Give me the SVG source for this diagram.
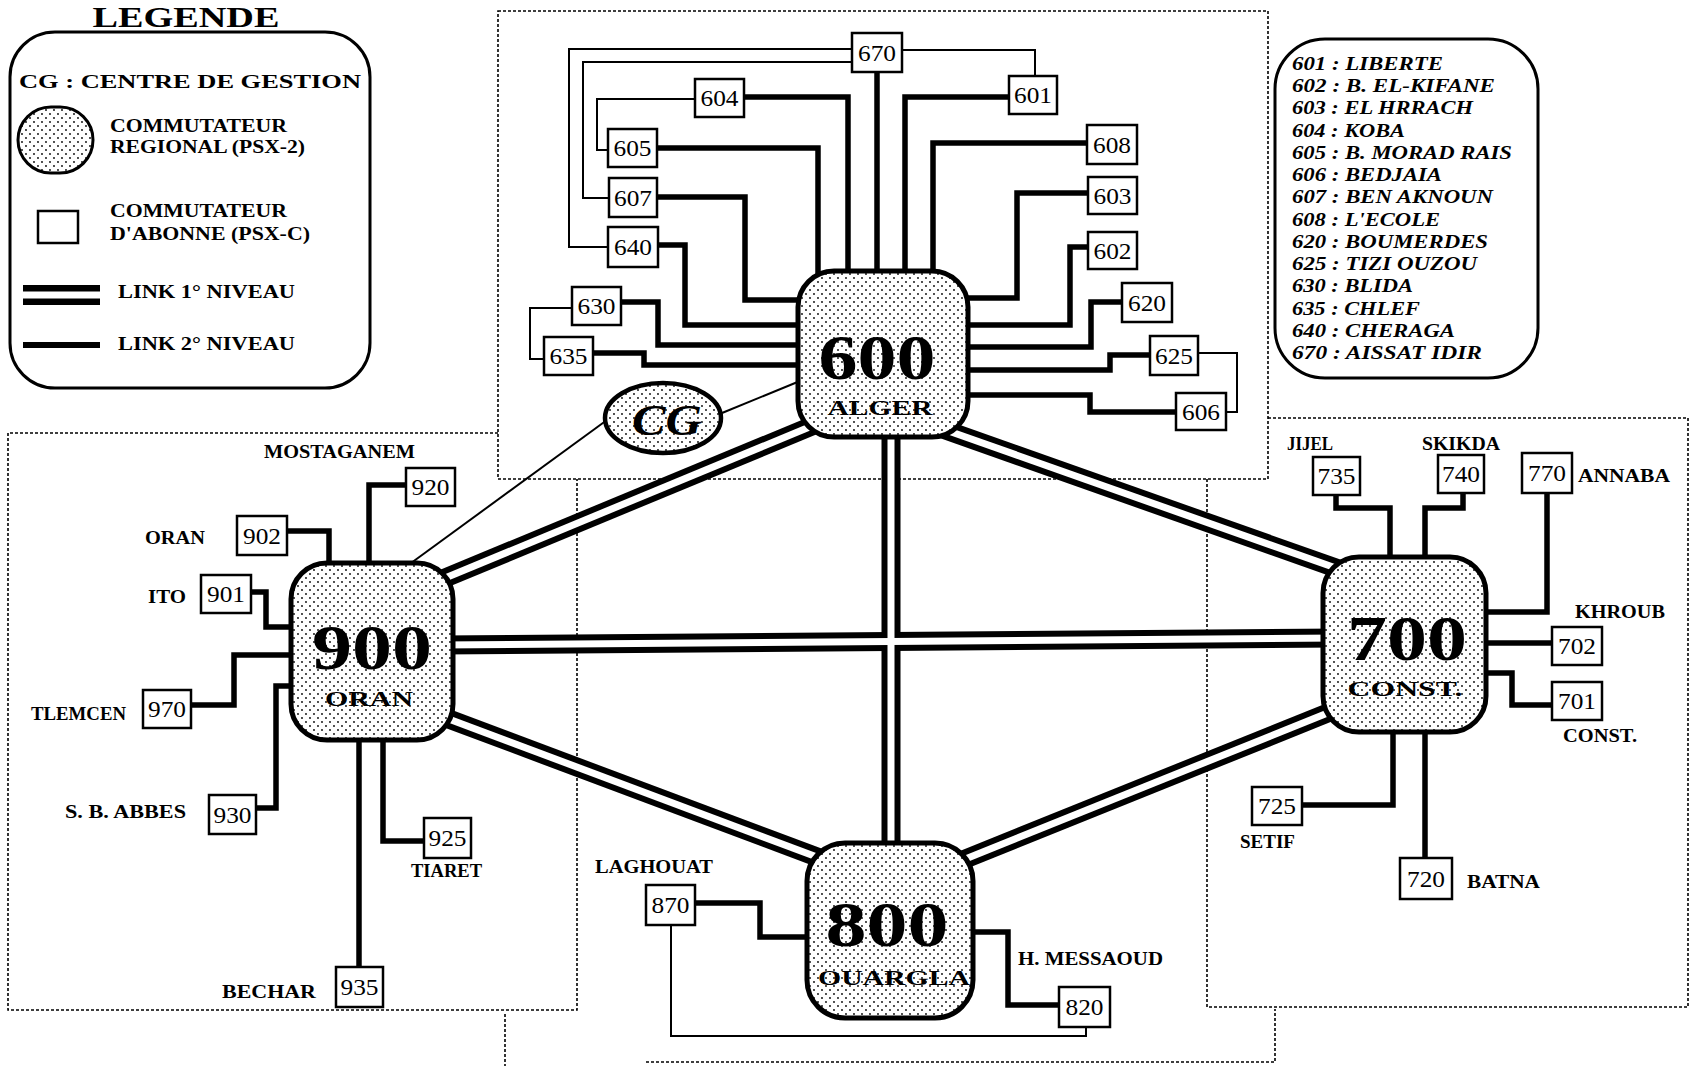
<svg xmlns="http://www.w3.org/2000/svg" width="1689" height="1066" viewBox="0 0 1689 1066">
<defs>
<pattern id="dots" width="8" height="8" patternUnits="userSpaceOnUse">
<rect width="8" height="8" fill="#fff"/>
<circle cx="2" cy="2" r="0.9" fill="#000"/>
<circle cx="6" cy="6" r="0.9" fill="#000"/>
</pattern>
</defs>
<style>
.reg{fill:none;stroke:#000;stroke-width:1.6;stroke-dasharray:3 2}
.l2{fill:none;stroke:#000;stroke-width:5.5;stroke-linejoin:miter;stroke-linecap:square}
.thin{fill:none;stroke:#000;stroke-width:2}
.l1o{fill:none;stroke:#000;stroke-width:19}
.l1i{fill:none;stroke:#fff;stroke-width:7}
.box{fill:#fff;stroke:#000;stroke-width:2.5}
.bt{font-family:"Liberation Serif",serif;font-size:24px;text-anchor:middle}
.lbl{font-family:"Liberation Serif",serif;font-weight:bold;font-size:19px}
.hub{fill:url(#dots);stroke:#000;stroke-width:5}
.hubn{font-family:"Liberation Serif",serif;font-weight:bold;font-size:64px;text-anchor:middle}
.hubl{font-family:"Liberation Serif",serif;font-weight:bold;font-size:22px;text-anchor:middle}
.leg{font-family:"Liberation Serif",serif;font-weight:bold;font-size:18px}
.code{font-family:"Liberation Serif",serif;font-weight:bold;font-style:italic;font-size:19px}
</style>
<rect width="1689" height="1066" fill="#fff"/>

<g id="regions">
<rect class="reg" x="498" y="11" width="770" height="468"/>
<path class="reg" d="M498,433 H8 V1010 H577 V479"/>
<path class="reg" d="M1268,418 H1688 V1007 H1207 V479"/>
<path class="reg" d="M505,1014 V1066 M646,1062 H1275 V1009"/>
</g>

<g id="legend">
<text x="186" y="27" font-family="Liberation Serif,serif" font-weight="bold" font-size="30" text-anchor="middle" textLength="187" lengthAdjust="spacingAndGlyphs">LEGENDE</text>
<rect x="10" y="32" width="360" height="356" rx="45" fill="none" stroke="#000" stroke-width="3"/>
<text class="leg" x="19" y="88" font-size="21" textLength="342" lengthAdjust="spacingAndGlyphs">CG : CENTRE DE GESTION</text>
<rect x="18" y="107" width="75" height="66" rx="33" fill="url(#dots)" stroke="#000" stroke-width="3"/>
<text class="leg" x="110" y="132" textLength="177" lengthAdjust="spacingAndGlyphs">COMMUTATEUR</text>
<text class="leg" x="110" y="153" textLength="195" lengthAdjust="spacingAndGlyphs">REGIONAL (PSX-2)</text>
<rect x="38" y="211" width="40" height="32" fill="#fff" stroke="#000" stroke-width="2.5"/>
<text class="leg" x="110" y="217" textLength="177" lengthAdjust="spacingAndGlyphs">COMMUTATEUR</text>
<text class="leg" x="110" y="240" textLength="200" lengthAdjust="spacingAndGlyphs">D'ABONNE (PSX-C)</text>
<path d="M23,295 H100" stroke="#000" stroke-width="20"/>
<path d="M23,295 H100" stroke="#fff" stroke-width="7"/>
<text class="leg" x="118" y="298" textLength="177" lengthAdjust="spacingAndGlyphs">LINK 1° NIVEAU</text>
<path d="M23,345 H100" stroke="#000" stroke-width="6"/>
<text class="leg" x="118" y="350" textLength="177" lengthAdjust="spacingAndGlyphs">LINK 2° NIVEAU</text>
</g>

<g id="legend-codes">
<rect x="1275" y="39" width="263" height="339" rx="50" fill="none" stroke="#000" stroke-width="3"/>
<text class="code" x="1292" y="70" textLength="151" lengthAdjust="spacingAndGlyphs">601 : LIBERTE</text>
<text class="code" x="1292" y="92" textLength="203" lengthAdjust="spacingAndGlyphs">602 : B. EL-KIFANE</text>
<text class="code" x="1292" y="114" textLength="181" lengthAdjust="spacingAndGlyphs">603 : EL HRRACH</text>
<text class="code" x="1292" y="137" textLength="113" lengthAdjust="spacingAndGlyphs">604 : KOBA</text>
<text class="code" x="1292" y="159" textLength="220" lengthAdjust="spacingAndGlyphs">605 : B. MORAD RAIS</text>
<text class="code" x="1292" y="181" textLength="150" lengthAdjust="spacingAndGlyphs">606 : BEDJAIA</text>
<text class="code" x="1292" y="203" textLength="201" lengthAdjust="spacingAndGlyphs">607 : BEN AKNOUN</text>
<text class="code" x="1292" y="226" textLength="148" lengthAdjust="spacingAndGlyphs">608 : L'ECOLE</text>
<text class="code" x="1292" y="248" textLength="196" lengthAdjust="spacingAndGlyphs">620 : BOUMERDES</text>
<text class="code" x="1292" y="270" textLength="185" lengthAdjust="spacingAndGlyphs">625 : TIZI OUZOU</text>
<text class="code" x="1292" y="292" textLength="121" lengthAdjust="spacingAndGlyphs">630 : BLIDA</text>
<text class="code" x="1292" y="315" textLength="128" lengthAdjust="spacingAndGlyphs">635 : CHLEF</text>
<text class="code" x="1292" y="337" textLength="163" lengthAdjust="spacingAndGlyphs">640 : CHERAGA</text>
<text class="code" x="1292" y="359" textLength="190" lengthAdjust="spacingAndGlyphs">670 : AISSAT IDIR</text>
</g>

<g id="connectors">
<path class="l1o" d="M421,588 L824,421"/>
<path class="l1o" d="M940,428 L1350,573"/>
<path class="l1o" d="M440,645 L1340,638"/>
<path class="l1o" d="M430,712 L833,863"/>
<path class="l1o" d="M1345,706 L948,866"/>
<path class="l1o" d="M891,420 V860"/>
<path class="l1i" d="M421,588 L824,421"/>
<path class="l1i" d="M940,428 L1350,573"/>
<path class="l1i" d="M891,420 V860"/>
<path class="l1i" d="M440,645 L1340,638"/>
<path class="l1i" d="M430,712 L833,863"/>
<path class="l1i" d="M1345,706 L948,866"/>
<path class="thin" stroke-width="2.5" d="M722,413 L800,381"/>
<path class="thin" stroke-width="2.5" d="M607,420 L407,566"/>
<path class="thin" d="M852,49 H569 V247 H608"/>
<path class="thin" d="M852,62 H583 V198 H609"/>
<path class="thin" d="M695,99 H597 V150 H608"/>
<path class="thin" d="M902,50 H1035 V76"/>
<path class="thin" d="M572,308 H530 V359 H544"/>
<path class="thin" d="M1198,353 H1237 V412 H1226"/>
<path class="l2" d="M744,97 H848 V290"/>
<path class="l2" d="M657,148 H818 V290"/>
<path class="l2" d="M877,72 V290"/>
<path class="l2" d="M1009,97 H905 V290"/>
<path class="l2" d="M1087,143 H933 V290"/>
<path class="l2" d="M657,197 H745 V300 H810"/>
<path class="l2" d="M658,245 H685 V325 H810"/>
<path class="l2" d="M621,302 H658 V345 H810"/>
<path class="l2" d="M593,353 H644 V365 H810"/>
<path class="l2" d="M1088,193 H1017 V298 H955"/>
<path class="l2" d="M1088,247 H1070 V325 H955"/>
<path class="l2" d="M1122,302 H1091 V347 H955"/>
<path class="l2" d="M1150,355 H1110 V370 H955"/>
<path class="l2" d="M1176,412 H1090 V395 H955"/>
<path class="l2" d="M406,485 H369 V575"/>
<path class="l2" d="M287,531 H329 V575"/>
<path class="l2" d="M251,592 H266 V627 H300"/>
<path class="l2" d="M191,705 H234 V655 H300"/>
<path class="l2" d="M256,808 H276 V686 H300"/>
<path class="l2" d="M424,841 H383 V730"/>
<path class="l2" d="M359,967 V730"/>
<path class="l2" d="M1336,495 V508 H1390 V565"/>
<path class="l2" d="M1463,493 V508 H1425 V565"/>
<path class="l2" d="M1547,493 V612 H1478"/>
<path class="l2" d="M1478,643 H1552"/>
<path class="l2" d="M1478,673 H1512 V705 H1552"/>
<path class="l2" d="M1302,805 H1393 V725"/>
<path class="l2" d="M1425,858 V725"/>
<path class="l2" d="M695,903 H760 V937 H815"/>
<path class="l2" d="M965,932 H1008 V1005 H1059"/>
<path class="thin" d="M671,925 V1036 H1086 V1027"/>
</g>

<g id="node-cg">
<ellipse cx="663" cy="418" rx="58" ry="35" fill="url(#dots)" stroke="#000" stroke-width="4.5"/>
<text x="667" y="435" font-family="Liberation Serif,serif" font-weight="bold" font-style="italic" font-size="44" text-anchor="middle" textLength="70" lengthAdjust="spacingAndGlyphs">CG</text>
</g>

<g id="node-600">
<rect class="hub" x="798" y="271" width="170" height="166" rx="36"/>
<text class="hubn" x="877" y="379" textLength="117" lengthAdjust="spacingAndGlyphs">600</text>
<text class="hubl" x="880" y="415" textLength="105" lengthAdjust="spacingAndGlyphs">ALGER</text>
</g>
<g id="node-900">
<rect class="hub" x="291" y="563" width="162" height="177" rx="36"/>
<text class="hubn" x="372" y="669" textLength="120" lengthAdjust="spacingAndGlyphs">900</text>
<text class="hubl" x="369" y="706" textLength="88" lengthAdjust="spacingAndGlyphs">ORAN</text>
</g>
<g id="node-700">
<rect class="hub" x="1323" y="557" width="163" height="175" rx="36"/>
<text class="hubn" x="1407" y="660" font-size="60" textLength="120" lengthAdjust="spacingAndGlyphs">700</text>
<text class="hubl" x="1405" y="696" font-size="21" textLength="115" lengthAdjust="spacingAndGlyphs">CONST.</text>
</g>
<g id="node-800">
<rect class="hub" x="807" y="843" width="166" height="175" rx="38"/>
<text class="hubn" x="887" y="946" textLength="123" lengthAdjust="spacingAndGlyphs">800</text>
<text class="hubl" x="894" y="985" font-size="23" textLength="152" lengthAdjust="spacingAndGlyphs">OUARGLA</text>
</g>

<g id="node-670"><rect class="box" x="852" y="33" width="50" height="39"/><text class="bt" x="877" y="61" textLength="38" lengthAdjust="spacingAndGlyphs">670</text></g>
<g id="node-604"><rect class="box" x="695" y="79" width="49" height="38"/><text class="bt" x="719.5" y="106" textLength="38" lengthAdjust="spacingAndGlyphs">604</text></g>
<g id="node-601"><rect class="box" x="1009" y="76" width="48" height="38"/><text class="bt" x="1033" y="103" textLength="38" lengthAdjust="spacingAndGlyphs">601</text></g>
<g id="node-605"><rect class="box" x="608" y="129" width="49" height="38"/><text class="bt" x="632.5" y="156" textLength="38" lengthAdjust="spacingAndGlyphs">605</text></g>
<g id="node-608"><rect class="box" x="1087" y="125" width="50" height="39"/><text class="bt" x="1112" y="153" textLength="38" lengthAdjust="spacingAndGlyphs">608</text></g>
<g id="node-607"><rect class="box" x="609" y="178" width="48" height="39"/><text class="bt" x="633" y="206" textLength="38" lengthAdjust="spacingAndGlyphs">607</text></g>
<g id="node-603"><rect class="box" x="1088" y="177" width="49" height="37"/><text class="bt" x="1112.5" y="204" textLength="38" lengthAdjust="spacingAndGlyphs">603</text></g>
<g id="node-640"><rect class="box" x="608" y="227" width="50" height="40"/><text class="bt" x="633" y="255" textLength="38" lengthAdjust="spacingAndGlyphs">640</text></g>
<g id="node-602"><rect class="box" x="1088" y="232" width="49" height="37"/><text class="bt" x="1112.5" y="259" textLength="38" lengthAdjust="spacingAndGlyphs">602</text></g>
<g id="node-630"><rect class="box" x="572" y="287" width="49" height="38"/><text class="bt" x="596.5" y="314" textLength="38" lengthAdjust="spacingAndGlyphs">630</text></g>
<g id="node-620"><rect class="box" x="1122" y="283" width="50" height="39"/><text class="bt" x="1147" y="311" textLength="38" lengthAdjust="spacingAndGlyphs">620</text></g>
<g id="node-635"><rect class="box" x="544" y="337" width="49" height="38"/><text class="bt" x="568.5" y="364" textLength="38" lengthAdjust="spacingAndGlyphs">635</text></g>
<g id="node-625"><rect class="box" x="1150" y="336" width="48" height="39"/><text class="bt" x="1174" y="364" textLength="38" lengthAdjust="spacingAndGlyphs">625</text></g>
<g id="node-606"><rect class="box" x="1176" y="393" width="50" height="37"/><text class="bt" x="1201" y="420" textLength="38" lengthAdjust="spacingAndGlyphs">606</text></g>

<g id="node-920"><rect class="box" x="406" y="468" width="49" height="38"/><text class="bt" x="430.5" y="495" textLength="38" lengthAdjust="spacingAndGlyphs">920</text></g>
<g id="node-902"><rect class="box" x="237" y="516" width="50" height="39"/><text class="bt" x="262" y="544" textLength="38" lengthAdjust="spacingAndGlyphs">902</text></g>
<g id="node-901"><rect class="box" x="201" y="575" width="50" height="38"/><text class="bt" x="226" y="602" textLength="38" lengthAdjust="spacingAndGlyphs">901</text></g>
<g id="node-970"><rect class="box" x="143" y="690" width="48" height="38"/><text class="bt" x="167" y="717" textLength="38" lengthAdjust="spacingAndGlyphs">970</text></g>
<g id="node-930"><rect class="box" x="209" y="795" width="47" height="39"/><text class="bt" x="232.5" y="823" textLength="38" lengthAdjust="spacingAndGlyphs">930</text></g>
<g id="node-925"><rect class="box" x="424" y="818" width="47" height="40"/><text class="bt" x="447.5" y="846" textLength="38" lengthAdjust="spacingAndGlyphs">925</text></g>
<g id="node-935"><rect class="box" x="336" y="967" width="47" height="40"/><text class="bt" x="359.5" y="995" textLength="38" lengthAdjust="spacingAndGlyphs">935</text></g>

<g id="node-735"><rect class="box" x="1313" y="457" width="47" height="38"/><text class="bt" x="1336.5" y="484" textLength="38" lengthAdjust="spacingAndGlyphs">735</text></g>
<g id="node-740"><rect class="box" x="1438" y="455" width="46" height="38"/><text class="bt" x="1461" y="482" textLength="38" lengthAdjust="spacingAndGlyphs">740</text></g>
<g id="node-770"><rect class="box" x="1522" y="453" width="50" height="40"/><text class="bt" x="1547" y="481" textLength="38" lengthAdjust="spacingAndGlyphs">770</text></g>
<g id="node-702"><rect class="box" x="1552" y="627" width="50" height="38"/><text class="bt" x="1577" y="654" textLength="38" lengthAdjust="spacingAndGlyphs">702</text></g>
<g id="node-701"><rect class="box" x="1552" y="682" width="50" height="38"/><text class="bt" x="1577" y="709" textLength="38" lengthAdjust="spacingAndGlyphs">701</text></g>
<g id="node-725"><rect class="box" x="1252" y="787" width="50" height="38"/><text class="bt" x="1277" y="814" textLength="38" lengthAdjust="spacingAndGlyphs">725</text></g>
<g id="node-720"><rect class="box" x="1400" y="858" width="52" height="41"/><text class="bt" x="1426" y="887" textLength="38" lengthAdjust="spacingAndGlyphs">720</text></g>

<g id="node-870"><rect class="box" x="646" y="885" width="49" height="40"/><text class="bt" x="670.5" y="913" textLength="38" lengthAdjust="spacingAndGlyphs">870</text></g>
<g id="node-820"><rect class="box" x="1059" y="987" width="51" height="40"/><text class="bt" x="1084.5" y="1015" textLength="38" lengthAdjust="spacingAndGlyphs">820</text></g>

<g id="labels">
<text class="lbl" x="264" y="458" textLength="151" lengthAdjust="spacingAndGlyphs">MOSTAGANEM</text>
<text class="lbl" x="145" y="544" textLength="60" lengthAdjust="spacingAndGlyphs">ORAN</text>
<text class="lbl" x="148" y="603" textLength="38" lengthAdjust="spacingAndGlyphs">ITO</text>
<text class="lbl" x="31" y="720" textLength="95" lengthAdjust="spacingAndGlyphs">TLEMCEN</text>
<text class="lbl" x="65" y="818" textLength="121" lengthAdjust="spacingAndGlyphs">S. B. ABBES</text>
<text class="lbl" x="411" y="877" textLength="71" lengthAdjust="spacingAndGlyphs">TIARET</text>
<text class="lbl" x="222" y="998" textLength="94" lengthAdjust="spacingAndGlyphs">BECHAR</text>
<text class="lbl" x="1287" y="450" textLength="46" lengthAdjust="spacingAndGlyphs">JIJEL</text>
<text class="lbl" x="1422" y="450" textLength="78" lengthAdjust="spacingAndGlyphs">SKIKDA</text>
<text class="lbl" x="1578" y="482" textLength="92" lengthAdjust="spacingAndGlyphs">ANNABA</text>
<text class="lbl" x="1575" y="618" textLength="90" lengthAdjust="spacingAndGlyphs">KHROUB</text>
<text class="lbl" x="1563" y="742" textLength="74" lengthAdjust="spacingAndGlyphs">CONST.</text>
<text class="lbl" x="1240" y="848" textLength="55" lengthAdjust="spacingAndGlyphs">SETIF</text>
<text class="lbl" x="1467" y="888" textLength="73" lengthAdjust="spacingAndGlyphs">BATNA</text>
<text class="lbl" x="595" y="873" textLength="118" lengthAdjust="spacingAndGlyphs">LAGHOUAT</text>
<text class="lbl" x="1018" y="965" textLength="145" lengthAdjust="spacingAndGlyphs">H. MESSAOUD</text>
</g>
</svg>
